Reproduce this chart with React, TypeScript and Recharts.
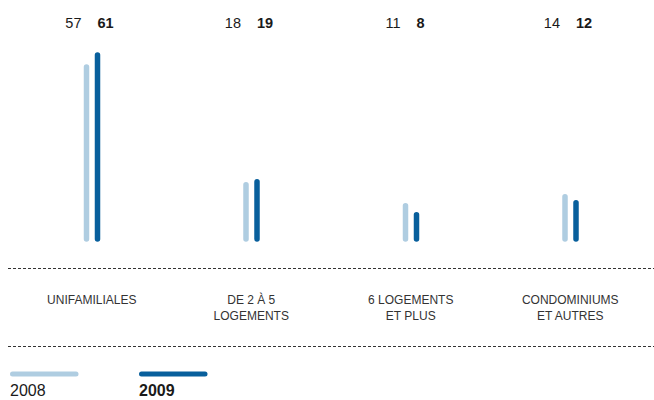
import { Bar, BarChart, LabelList, XAxis, YAxis } from 'recharts';

const categories = ['UNIFAMILIALES', 'DE 2 À 5|LOGEMENTS', '6 LOGEMENTS|ET PLUS', 'CONDOMINIUMS|ET AUTRES'];
const values2008 = [57, 18, 11, 14];
const values2009 = [61, 19, 8, 12];
const years = ['2008', '2009'];

const LIGHT = '#afcde1';
const DARK = '#085f9c';
const FONT = '"Liberation Sans", Arial, Helvetica, sans-serif';

const data = categories.map((name, i) => ({
    name,
    y2008: values2008[i],
    y2009: values2009[i],
}));

// thin bar drawn as a line with rounded caps
const RoundBar = (props: any) => {
    const { x, y, width, height, fill } = props;
    if (height == null || width == null) return null;
    const cx = x + width / 2;
    return (
        <line
            x1={cx}
            x2={cx}
            y1={y + height}
            y2={y}
            stroke={fill}
            strokeWidth={5.5}
            strokeLinecap="round"
        />
    );
};

const TopLabel = (side: 'left' | 'right', bold: boolean) => (props: any) => {
    const { x, width, value } = props;
    const cx = x + width / 2;
    return (
        <text
            x={side === 'left' ? cx - 5 : cx}
            y={28}
            textAnchor={side === 'left' ? 'end' : 'start'}
            fontSize={14.5}
            fontWeight={bold ? 700 : 400}
            fill="#1a1a1a"
            fontFamily={FONT}
        >
            {value}
        </text>
    );
};

const CategoryTick = (props: any) => {
    const { x, payload } = props;
    const lines = String(payload.value).split('|');
    return (
        <text x={x} y={304} textAnchor="middle" fontSize={12} fill="#333" fontFamily={FONT}>
            {lines.map((l, i) => (
                <tspan key={i} x={x} dy={i === 0 ? 0 : 16}>
                    {l}
                </tspan>
            ))}
        </text>
    );
};

const App = () => {
    return (
        <div style={{ position: 'absolute', left: 0, top: 0, width: 654, height: 400, background: '#fff' }}>
            <BarChart
                width={654}
                height={400}
                data={data}
                margin={{ top: 55, right: 4, bottom: 130, left: 12 }}
                barSize={5}
                barGap={6}
            >
                <XAxis
                    dataKey="name"
                    axisLine={false}
                    tickLine={false}
                    tick={<CategoryTick />}
                    interval={0}
                    height={31}
                />
                <YAxis hide domain={[0, 61]} />
                <Bar dataKey="y2008" name="2008" fill={LIGHT} shape={<RoundBar />} isAnimationActive={false}>
                    <LabelList dataKey="y2008" content={TopLabel('left', false)} />
                </Bar>
                <Bar dataKey="y2009" name="2009" fill={DARK} shape={<RoundBar />} isAnimationActive={false}>
                    <LabelList dataKey="y2009" content={TopLabel('right', true)} />
                </Bar>
            </BarChart>
            <svg
                width={654}
                height={400}
                style={{ position: 'absolute', left: 0, top: 0, pointerEvents: 'none' }}
            >
                <line x1={8} x2={654} y1={268.5} y2={268.5} stroke="#333" strokeDasharray="3 2" />
                <line x1={8} x2={654} y1={346.5} y2={346.5} stroke="#333" strokeDasharray="3 2" />
                {years.map((yr, i) => {
                    const x0 = 10 + i * 129;
                    return (
                        <g key={yr}>
                            <line
                                x1={x0 + 2.5}
                                x2={x0 + 66}
                                y1={374}
                                y2={374}
                                stroke={i === 0 ? LIGHT : DARK}
                                strokeWidth={5}
                                strokeLinecap="round"
                            />
                            <text
                                x={x0}
                                y={396}
                                fontSize={16}
                                fontWeight={i === 1 ? 700 : 400}
                                fill="#1a1a1a"
                                fontFamily={FONT}
                            >
                                {yr}
                            </text>
                        </g>
                    );
                })}
            </svg>
        </div>
    );
};

export default App;
